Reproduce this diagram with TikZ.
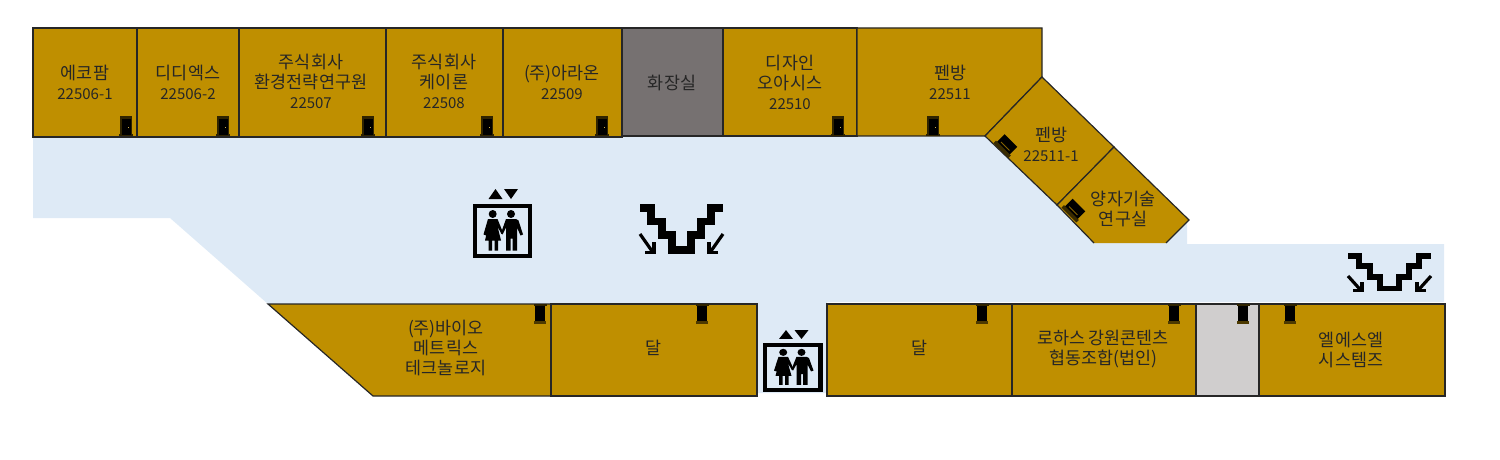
\documentclass[tikz,border=0pt]{standalone}
\usepackage{fontspec}
\setmainfont{Noto Sans CJK KR}
\definecolor{gold}{HTML}{BF8F00}
\definecolor{wc}{HTML}{767171}
\definecolor{lgray}{HTML}{D0CECE}
\definecolor{floorc}{HTML}{DEEAF6}
\definecolor{edge}{HTML}{262626}
\newcommand{\nm}[1]{{\fontsize{15}{20}\selectfont #1}}
\tikzset{
  room/.style={fill=gold,draw=edge,line width=1.2pt,line join=miter},
  lbl/.style={align=center,font=\fontsize{17.4}{20}\selectfont,text=black!85,inner sep=0pt},
  doorpic/.pic={
    \fill[black!75!gold] (-7,-19.5) rectangle (7,0);
    \fill[gold] (-7,-19.5) rectangle (-5.6,-1.5);
    \fill[gold] (5.6,-19.5) rectangle (7,-1.5);
    \fill[black] (-4.5,-17) rectangle (4.5,-1);
    \fill[gold!70!white] (1.8,-8.5) rectangle (2.8,-7.5);
  },
  doordown/.pic={
    \fill[black] (-5,0) rectangle (5,18);
    \fill[black!75!gold] (-6.5,0) rectangle (6.5,2);
    \fill[black!60!gold] (-6,17) rectangle (6,19.5);
  },
  doorslant/.pic={
    \fill[black] (-5.5,-9) rectangle (5.5,9);
    \fill[gold!70!black] (-3,-6) rectangle (-2,6);
    \fill[black!70!gold] (-8.5,-10.5) rectangle (-5,10.5);
  },
}
\newcommand{\elevator}[3]{%
  \begin{scope}[shift={(#1,#2)},yscale=#3]
    \draw[black,line width=4.4pt] (2.2,2.2) rectangle (57.6,52.6);
    \fill (16,-4.5) -- (30,-4.5) -- (23,-14.5) -- cycle;
    \fill (31.5,-14.5) -- (45.5,-14.5) -- (38.5,-4.5) -- cycle;
    \fill (20.2,10.5) circle[radius=4];
    \fill (38.5,10.5) circle[radius=4];
    \fill (15.5,15.5) -- (25,15.5) -- (30.5,29) -- (29,30.5) -- (25,23) -- (28.5,37) -- (25.5,37)
       -- (25.5,47) -- (22,47) -- (22,37) -- (19.5,37) -- (19.5,47) -- (16,47) -- (16,37) -- (12.5,37)
       -- (15.5,24) -- (13.5,32) -- (11,31) -- cycle;
    \fill (33.5,15.5) -- (43.5,15.5) -- (46,17) -- (50.5,31) -- (48,32) -- (44.5,24) -- (44.5,47) -- (40,47)
       -- (40,35) -- (38,35) -- (38,47) -- (33.5,47) -- (33.5,24) -- (30,31) -- (28.5,29.5) -- cycle;
  \end{scope}}
\newcommand{\escal}[4]{%
  \begin{scope}[shift={(#1,#2)},yscale=#3]
    \draw[black,line width=#4,line join=miter,line cap=butt]
      (0,3.5) -- (11,3.5) -- (11,17) -- (22,17) -- (22,30.5) -- (32,30.5) -- (32,45.5)
      -- (51,45.5) -- (51,30.5) -- (61,30.5) -- (61,17) -- (71,17) -- (71,3.5) -- (83,3.5);
    \draw[black,line width=3.2pt] (0,29.5) -- (13,48);
    \draw[black,line width=3.2pt] (5,48) -- (14,48) -- (14,37);
    \draw[black,line width=3.2pt] (83,29.5) -- (70,48);
    \draw[black,line width=3.2pt] (78,48) -- (69,48) -- (69,37);
  \end{scope}}
\begin{document}
\begin{tikzpicture}[x=1pt,y=-1pt]
\useasboundingbox (0,0) rectangle (1500,460);
% floor
\fill[floorc] (33,137) -- (985,137) -- (1187,222) -- (1187,244) -- (1444,244) -- (1444,302)
  -- (827,302) -- (827,393) -- (757,393) -- (757,304) -- (268,304) -- (170,218) -- (33,218) -- cycle;
% top rooms
\draw[room] (33,28) rectangle (137,137);
\draw[room] (137,28) rectangle (239,137);
\draw[room] (239,28) rectangle (386,137);
\draw[room] (386,28) rectangle (503,137);
\draw[room] (503,28) rectangle (622,137);
\draw[fill=wc,draw=edge,line width=1.2pt] (622,28) rectangle (723,136);
\draw[room] (723,28) rectangle (857,136);
\draw[room] (857,28) -- (1042,28) -- (1042,77) -- (985,136) -- (857,136) -- cycle;
\draw[room] (1042,77) -- (1114,147) -- (1057,205) -- (985,136) -- cycle;
\fill[gold] (1114,147) -- (1189,220) -- (1166,243) -- (1094,243) -- (1057,205) -- cycle;
\draw[edge,line width=1.2pt] (1166,243) -- (1189,220) -- (1114,147) -- (1057,205) -- (1094,243);
% bottom rooms
\draw[room] (268,304) -- (551,304) -- (551,396) -- (373,396) -- cycle;
\draw[room] (551,304) rectangle (757,396);
\draw[room] (827,304) rectangle (1012,396);
\draw[room] (1012,304) rectangle (1196,396);
\draw[fill=lgray,draw=edge,line width=1.2pt] (1196,304) rectangle (1259,396);
\draw[room] (1259,304) rectangle (1445,396);
% doors
\foreach \x in {126,223,368,487,602,838,933} \pic at (\x,135.5) {doorpic};
\foreach \x in {540,702,982,1174,1243,1290} \pic at (\x,304) {doordown};
\pic[rotate=45] at (1007,144.5) {doorslant};
\pic[rotate=45] at (1075,209) {doorslant};
% labels
\node[lbl] (r1) at (85,82.5) {에코팜\\\nm{22506-1}};
\node[lbl] (r2) at (188,82.5) {디디엑스\\\nm{22506-2}};
\node[lbl] (r3) at (311,81.5) {주식회사\\환경전략연구원\\\nm{22507}};
\node[lbl] (r4) at (444,81.5) {주식회사\\케이론\\\nm{22508}};
\node[lbl] (r5) at (562,82.5) {(주)아라온\\\nm{22509}};
\node[lbl] (r6) at (672,82.5) {화장실};
\node[lbl] (r7) at (790,82.5) {디자인\\오아시스\\\nm{22510}};
\node[lbl] (r8) at (950,82.5) {펜방\\\nm{22511}};
\node[lbl] (r9) at (1051,144.5) {펜방\\\nm{22511-1}};
\node[lbl] (r10) at (1123,208.5) {양자기술\\연구실};
\node[lbl] (r11) at (446,347.5) {(주)바이오\\메트릭스\\테크놀로지};
\node[lbl] (r12) at (653,347.5) {달};
\node[lbl] (r13) at (919,347.5) {달};
\node[lbl] (r14) at (1103,349.5) {로하스 강원콘텐츠\\협동조합(법인)};
\node[lbl] (r15) at (1351,349.5) {엘에스엘\\시스템즈};
% icons
\elevator{472.5}{203.5}{1}
\elevator{763}{343}{0.89}
\escal{640}{204.5}{1}{7.4pt}
\escal{1348}{253}{0.78}{5.8pt}
\end{tikzpicture}
\end{document}
